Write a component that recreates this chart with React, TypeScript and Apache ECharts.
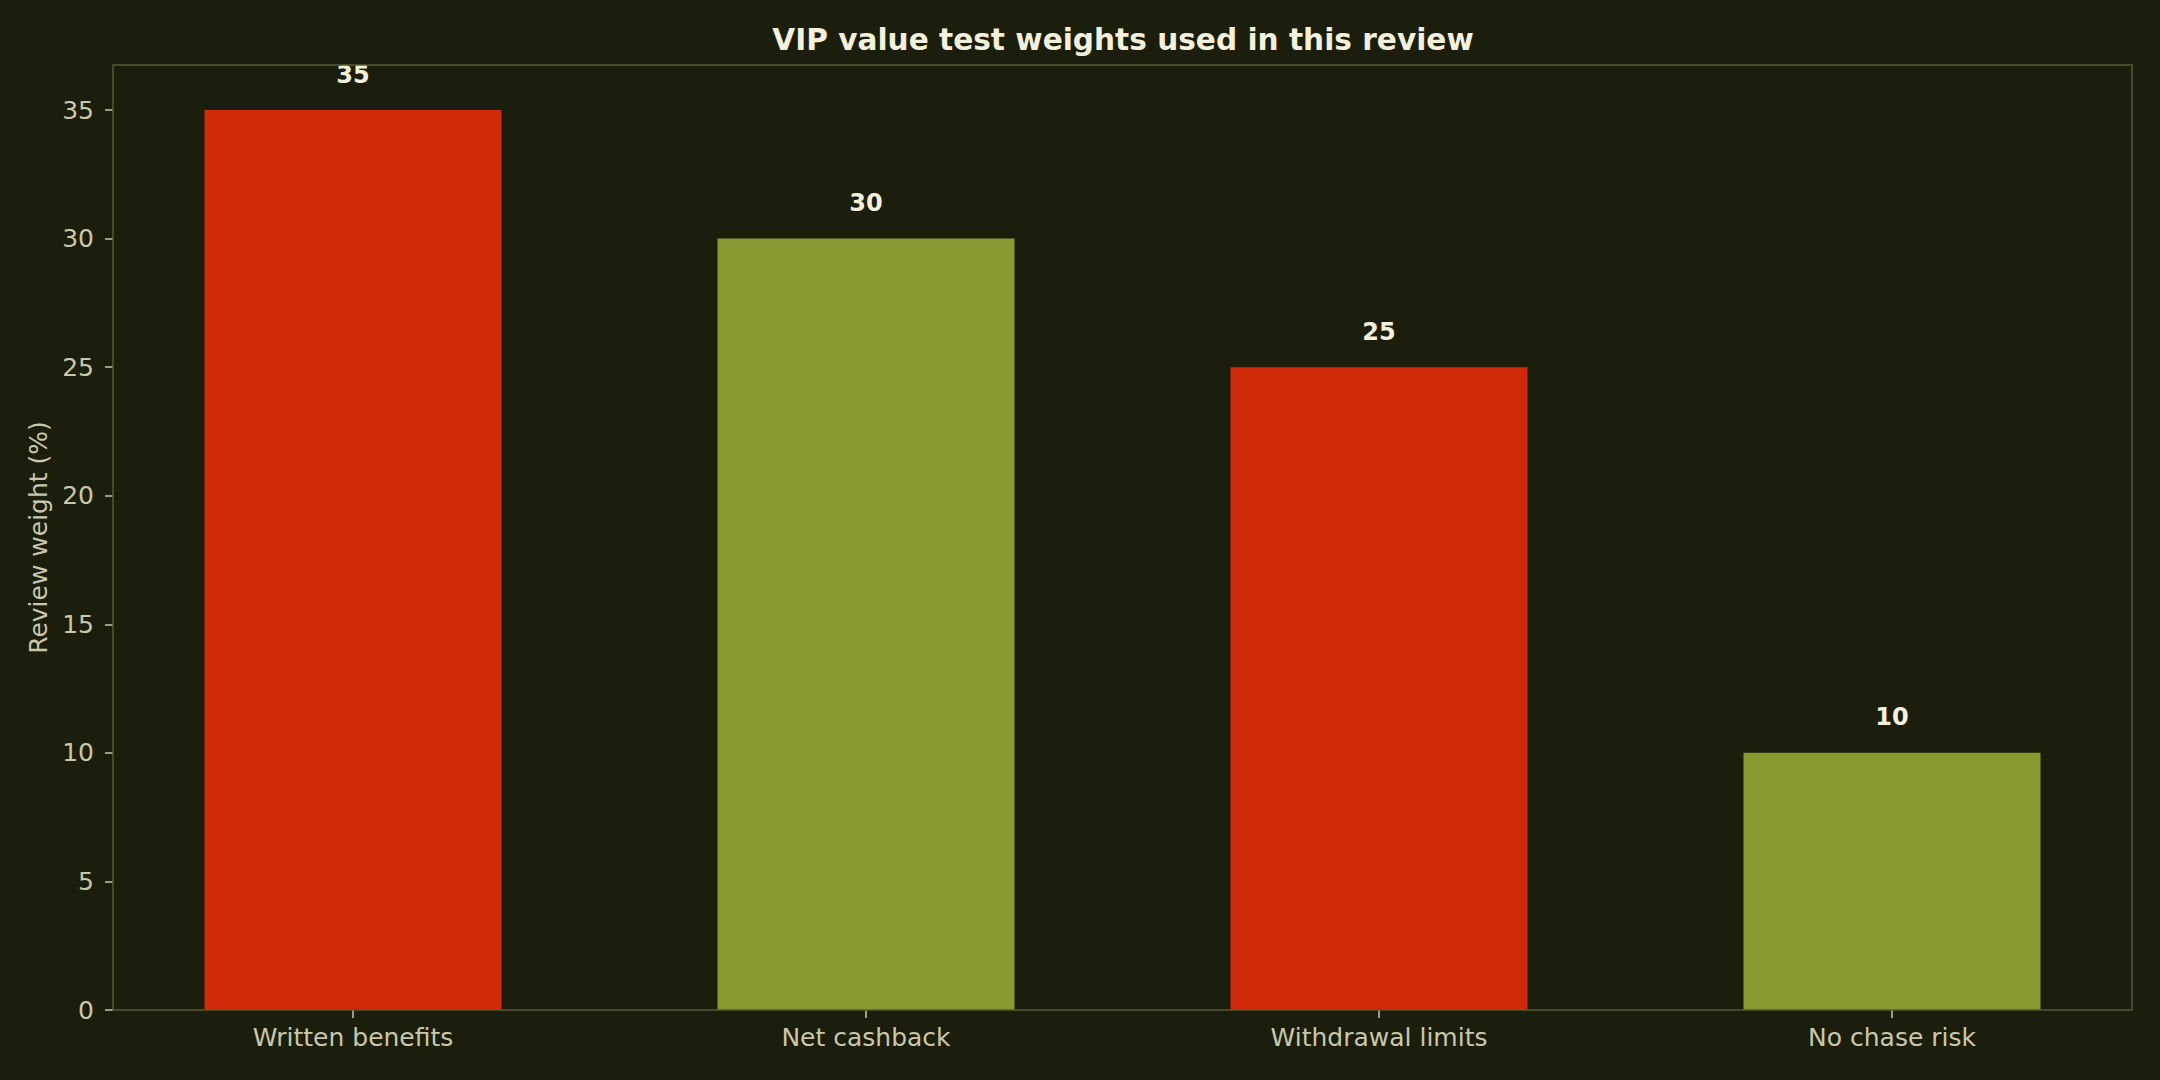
import React, { useEffect, useRef } from 'react';
import * as echarts from 'echarts';

const categories = ['Written benefits', 'Net cashback', 'Withdrawal limits', 'No chase risk'];
const weights = [35, 30, 25, 10];
const barColors = ['#d12a0a', '#8a9a33', '#d12a0a', '#8a9a33'];
const yTicks = [0, 5, 10, 15, 20, 25, 30, 35];

const BG = '#1b1d0d';
const FRAME = '#555a33';
const TICK_TEXT = '#c9c8aa';
const BOLD_TEXT = '#f3f0dc';
const FONT = 'DejaVu Sans';

const App: React.FC = () => {
  const chartRef = useRef<HTMLDivElement>(null);

  useEffect(() => {
    document.body.style.margin = '0';
    document.body.style.background = BG;
    const chart = echarts.init(chartRef.current, null, { renderer: 'svg' });

    const option = {
      animation: false,
      backgroundColor: BG,
      title: {
        text: 'VIP value test weights used in this review',
        left: 1118,
        top: 20,
        textAlign: 'center',
        textStyle: { color: BOLD_TEXT, fontFamily: FONT, fontWeight: 'bold', fontSize: 29.6 },
      },
      // frame around the plot area (matplotlib-like spines)
      graphic: [
        {
          type: 'rect',
          z: 100,
          silent: true,
          shape: { x: 113, y: 65, width: 2019, height: 945 },
          style: { fill: 'none', stroke: FRAME, lineWidth: 1.5 },
        },
      ],
      grid: { left: 96.5, right: 11.5, top: 65, bottom: 70 },
      xAxis: {
        type: 'category',
        data: categories,
        axisLine: { show: false },
        axisTick: { show: true, alignWithLabel: true, length: 8, lineStyle: { color: TICK_TEXT, width: 1.5 } },
        axisLabel: { color: TICK_TEXT, fontFamily: FONT, fontSize: 25, margin: 15 },
      },
      yAxis: {
        type: 'value',
        min: 0,
        max: 36.75,
        offset: -16.5,
        name: 'Review weight (%)',
        nameLocation: 'middle',
        nameRotate: 90,
        nameGap: 62,
        nameTextStyle: { color: TICK_TEXT, fontFamily: FONT, fontSize: 25 },
        axisLine: { show: false },
        splitLine: { show: false },
        axisTick: { show: true, length: 8, customValues: yTicks, lineStyle: { color: TICK_TEXT, width: 1.5 } },
        axisLabel: { color: TICK_TEXT, fontFamily: FONT, fontSize: 25, margin: 19, customValues: yTicks },
      },
      series: [
        {
          type: 'bar',
          barWidth: 297,
          data: weights.map((v, i) => ({ value: v, itemStyle: { color: barColors[i] } })),
          label: {
            show: true,
            position: 'top',
            distance: 23.5,
            color: BOLD_TEXT,
            fontFamily: FONT,
            fontWeight: 'bold',
            fontSize: 24,
          },
        },
      ],
    };

    chart.setOption(option);
    return () => {
      chart.dispose();
    };
  }, []);

  return (
    <div
      ref={chartRef}
      style={{ position: 'fixed', left: 0, top: 0, width: 2160, height: 1080 }}
    />
  );
};

export default App;
